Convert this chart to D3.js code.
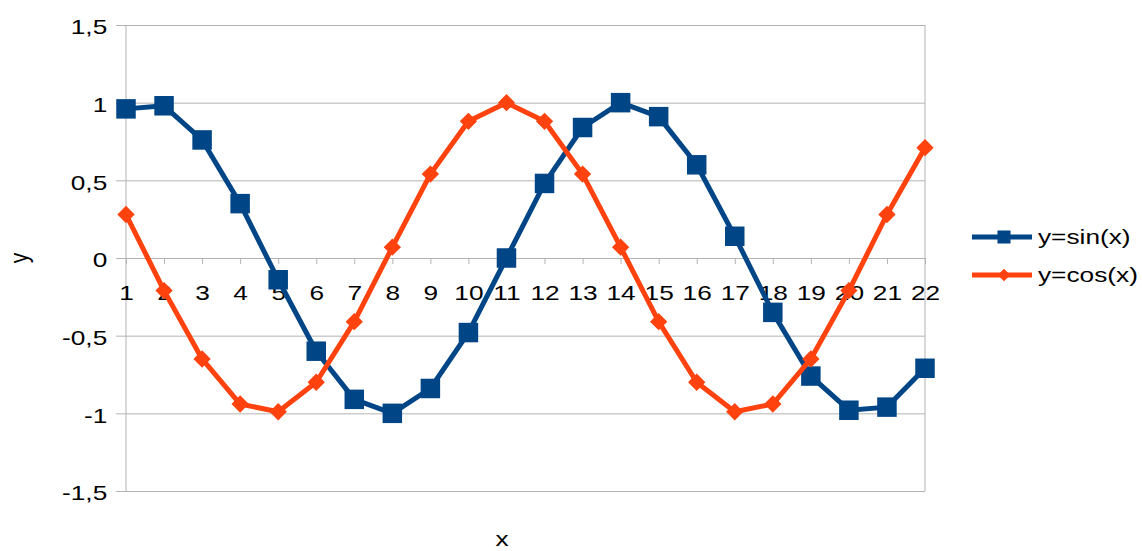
<!DOCTYPE html>
<html>
<head>
<meta charset="utf-8">
<script src="https://cdn.jsdelivr.net/npm/d3@7"></script>
<style>
  body { margin: 0; background: #fff; }
  text { font-family: "Liberation Sans", Arial, sans-serif; fill: #000; }
</style>
</head>
<body>
<div id="canvas"></div>
<script>
// Data
const categories = d3.range(1, 23)
const sinValues = [0.96, 0.98, 0.76, 0.35, -0.14, -0.6, -0.91, -1.0, -0.84, -0.48, 0.0,
    0.48, 0.84, 1.0, 0.91, 0.6, 0.14, -0.35, -0.76, -0.98, -0.96, -0.71]
const cosValues = [0.28, -0.21, -0.65, -0.94, -0.99, -0.8, -0.41, 0.07, 0.54, 0.88, 1.0,
    0.88, 0.54, 0.07, -0.41, -0.8, -0.99, -0.94, -0.65, -0.21, 0.28, 0.71]
const yTicks = [-1.5, -1, -0.5, 0, 0.5, 1, 1.5]
const seriesNames = ['y=sin(x)', 'y=cos(x)']

// Constants
const width = 1142
const height = 551
const plotLeft = 126
const plotRight = 925
const plotTop = 25
const plotBottom = 491
const blue = '#004586'
const orange = '#ff420e'
const fontSize = 21
// the picture is a bit wider than tall, so text gets stretched sideways
const stretch = 'scale(1.25,1)'

const svg = d3.select('#canvas')
    .append('svg').attr('width', width).attr('height', height)

const x = d3.scalePoint()
    .domain(categories)
    .range([plotLeft, plotRight])
const y = d3.scaleLinear()
    .domain([-1.5, 1.5])
    .range([plotBottom, plotTop])

// grid lines (y axis with long ticks)
const yAxis = d3.axisLeft(y)
    .tickValues(yTicks)
    .tickSize(-(plotRight - plotLeft))
    .tickFormat(d => String(d).replace('.', ','))
svg.append('g')
    .attr('class', 'y-axis')
    .attr('transform', `translate(${plotLeft},0)`)
    .call(yAxis)
    .call(g => g.select('.domain').remove())
    .call(g => g.selectAll('.tick line').attr('stroke', '#b3b3b3').attr('x1', -10))
    .call(g => g.selectAll('.tick text')
        .attr('font-size', fontSize)
        .attr('font-family', '"Liberation Sans", Arial, sans-serif')
        .attr('x', -15)
        .attr('dy', '0.42em')
        .attr('transform', stretch))

// left and right frame lines
svg.append('line')
    .attr('x1', plotLeft).attr('x2', plotLeft).attr('y1', plotTop).attr('y2', plotBottom)
    .attr('stroke', '#b3b3b3')
svg.append('line')
    .attr('x1', plotRight).attr('x2', plotRight).attr('y1', plotTop).attr('y2', plotBottom)
    .attr('stroke', '#b3b3b3')

// x axis sits on y = 0
const xAxis = d3.axisBottom(x)
    .tickSize(6)
    .tickPadding(21)
svg.append('g')
    .attr('class', 'x-axis')
    .attr('transform', `translate(0,${y(0)})`)
    .call(xAxis)
    .call(g => g.select('.domain').remove())
    .call(g => g.selectAll('.tick line').attr('stroke', '#b3b3b3'))
    .call(g => g.selectAll('.tick text')
        .attr('font-size', fontSize)
        .attr('font-family', '"Liberation Sans", Arial, sans-serif')
        .attr('transform', stretch))

// axis titles
svg.append('text')
    .text('y')
    .attr('font-size', fontSize)
    .attr('text-anchor', 'middle')
    .attr('transform', `translate(28,${y(0)}) rotate(-90) scale(1,1.25)`)
svg.append('text')
    .text('x')
    .attr('font-size', fontSize)
    .attr('text-anchor', 'middle')
    .attr('transform', `translate(502,546) ${stretch}`)

const Gen = d3.line()
    .x((d, i) => x(categories[i]))
    .y(d => y(d))

const series = [
    { name: seriesNames[0], values: sinValues, color: blue, symbol: d3.symbolSquare, size: 380, rot: 0, legendSize: 170 },
    { name: seriesNames[1], values: cosValues, color: orange, symbol: d3.symbolSquare, size: 150, rot: 45, legendSize: 80 }
]

series.forEach(s => {
    svg.append('path')
        .attr('d', Gen(s.values))
        .attr('fill', 'none')
        .attr('stroke', s.color)
        .attr('stroke-width', 5)
        .attr('stroke-linejoin', 'round')
    svg.append('g')
        .selectAll('path')
        .data(s.values)
        .join('path')
        .attr('d', d3.symbol().type(s.symbol).size(s.size))
        .attr('transform', (d, i) => `translate(${x(categories[i])},${y(d)}) rotate(${s.rot})`)
        .attr('fill', s.color)
})

// Legend
series.forEach((s, i) => {
    const ly = 237 + i * 38
    const g = svg.append('g').attr('transform', `translate(972,${ly})`)
    g.append('line')
        .attr('x1', 0).attr('x2', 60)
        .attr('stroke', s.color).attr('stroke-width', 5)
    g.append('path')
        .attr('d', d3.symbol().type(s.symbol).size(s.legendSize))
        .attr('transform', `translate(32,0) rotate(${s.rot})`)
        .attr('fill', s.color)
    g.append('text')
        .text(s.name)
        .attr('transform', `translate(66,0) ${stretch}`)
        .attr('dy', '0.35em')
        .attr('font-size', fontSize)
})
</script>
</body>
</html>
